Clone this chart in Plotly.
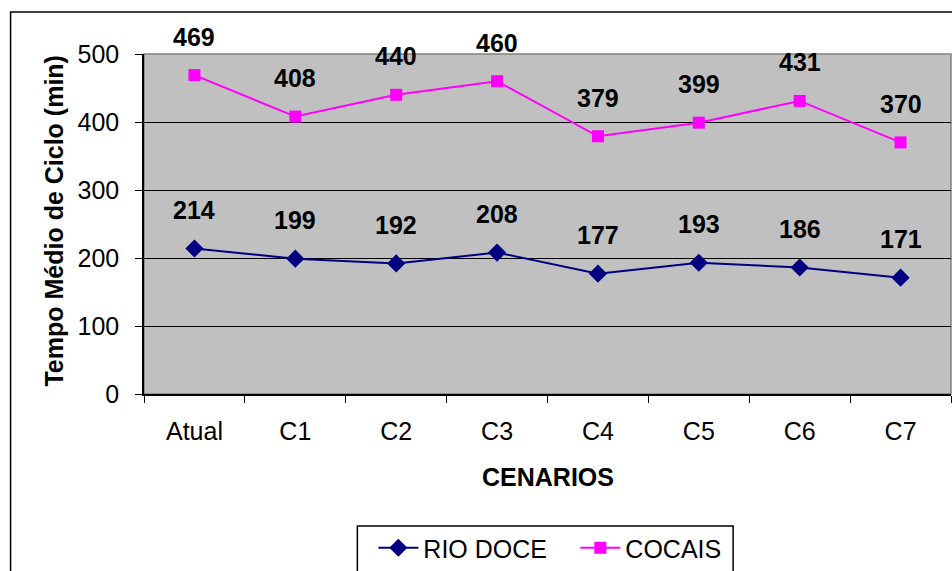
import plotly.graph_objects as go

# Cycle-time data per scenario
cenarios = ["Atual", "C1", "C2", "C3", "C4", "C5", "C6", "C7"]
rio_doce = [214, 199, 192, 208, 177, 193, 186, 171]
cocais = [469, 408, 440, 460, 379, 399, 431, 370]
y_ticks = [0, 100, 200, 300, 400, 500]

W, H = 952, 571
L, R, T, B = 143.5, 951, 54, 394  # plot area in pixels
pw, ph = R - L, B - T


def px(x):
    return (x - L) / pw


def py(y):
    return (B - y) / ph


FONT = "Liberation Sans, Arial, sans-serif"
FS = 25

fig = go.Figure()
fig.add_trace(go.Scatter(
    x=cenarios, y=rio_doce, name="RIO DOCE", mode="lines+markers",
    line=dict(color="#000080", width=2),
    marker=dict(symbol="diamond", size=14, color="#000080"),
))
fig.add_trace(go.Scatter(
    x=cenarios, y=cocais, name="COCAIS", mode="lines+markers",
    line=dict(color="#FF00FF", width=2),
    marker=dict(symbol="square", size=12, color="#FF00FF"),
))

annotations = []
for series in (rio_doce, cocais):
    for c, v in zip(cenarios, series):
        annotations.append(dict(
            x=c, y=v, xref="x", yref="y", text=f"<b>{v}</b>", showarrow=False,
            yshift=38.5, font=dict(family=FONT, size=FS, color="black"),
        ))

annotations.append(dict(
    x=px(53), y=py(221), xref="paper", yref="paper", text="<b>Tempo Médio de Ciclo (min)</b>",
    textangle=-90, showarrow=False, xanchor="center", yanchor="middle",
    font=dict(family=FONT, size=FS, color="black"),
))
annotations.append(dict(
    x=px(548), y=py(477), xref="paper", yref="paper", text="<b>CENARIOS</b>",
    showarrow=False, xanchor="center", yanchor="middle",
    font=dict(family=FONT, size=FS, color="black"),
))

shapes = [
    # outer chart frame
    dict(type="rect", xref="paper", yref="paper", x0=px(10), x1=px(960), y0=py(580), y1=py(12),
         line=dict(color="black", width=1.5), fillcolor="rgba(0,0,0,0)", layer="below"),
    # plot area border
    dict(type="rect", xref="paper", yref="paper", x0=0, x1=1, y0=0, y1=1,
         line=dict(color="#808080", width=1.5), fillcolor="rgba(0,0,0,0)", layer="below"),
    # legend frame
    dict(type="rect", xref="paper", yref="paper", x0=px(357), x1=px(733), y0=py(580), y1=py(526),
         line=dict(color="black", width=1.5), fillcolor="rgba(0,0,0,0)"),
]

fig.update_layout(
    width=W, height=H,
    margin=dict(l=L, r=W - R, t=T, b=H - B, autoexpand=False),
    paper_bgcolor="white", plot_bgcolor="#C0C0C0",
    font=dict(family=FONT, size=FS, color="black"),
    showlegend=True,
    legend=dict(orientation="h", x=px(373), y=py(525), xanchor="left", yanchor="top",
                font=dict(family=FONT, size=FS, color="black"),
                bgcolor="rgba(0,0,0,0)", borderwidth=0, itemwidth=40,
                entrywidth=147, entrywidthmode="pixels"),
    annotations=annotations,
    shapes=shapes,
)
fig.update_xaxes(
    type="category", tickson="boundaries", ticks="outside", ticklen=7, tickcolor="black",
    showline=True, linecolor="black", linewidth=1.5, showgrid=False, automargin=False,
    tickfont=dict(family=FONT, size=FS, color="black"), range=[-0.5, 7.5],
    ticklabelstandoff=14,
)
fig.update_yaxes(
    range=[0, 500], tickvals=y_ticks, ticks="outside", ticklen=7, tickcolor="black",
    showline=True, linecolor="black", linewidth=1.5, showgrid=True, gridcolor="black", gridwidth=1,
    zeroline=False, tickfont=dict(family=FONT, size=FS, color="black"), automargin=False,
    ticklabelstandoff=11,
)

fig.write_html("out.html")
